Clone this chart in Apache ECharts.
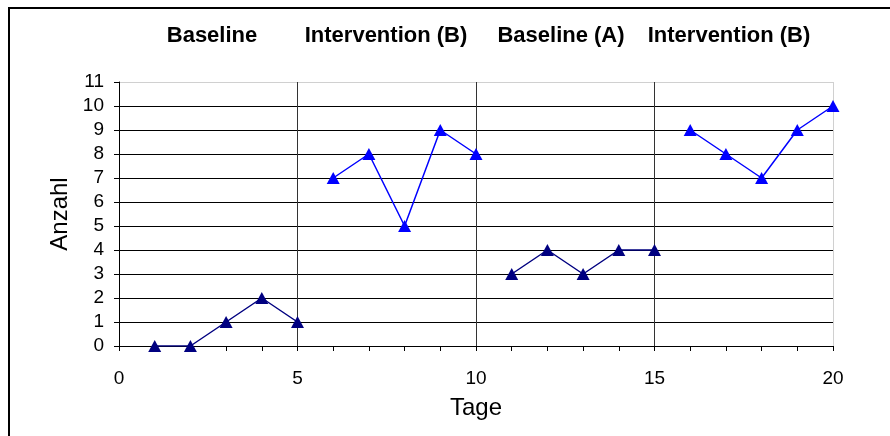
<!DOCTYPE html>
<html>
<head>
<meta charset="utf-8">
<script src="https://cdn.jsdelivr.net/npm/echarts@6/dist/echarts.min.js"></script>
<style>html,body{margin:0;padding:0;background:#fff}#c{width:890px;height:436px}</style>
</head>
<body>
<div id="c"></div>
<script>
var phaseTitles = ['Baseline', 'Intervention (B)', 'Baseline (A)', 'Intervention (B)'];
var phase1Days = [1, 2, 3, 4, 5];
var phase1Values = [0, 0, 1, 2, 1];
var phase2Days = [6, 7, 8, 9, 10];
var phase2Values = [7, 8, 5, 9, 8];
var phase3Days = [11, 12, 13, 14, 15];
var phase3Values = [3, 4, 3, 4, 4];
var phase4Days = [16, 17, 18, 19, 20];
var phase4Values = [9, 8, 7, 9, 10];
var xAxisName = 'Tage';
var yAxisName = 'Anzahl';

function pts(d, v) { return d.map(function (x, i) { return [x, v[i]]; }); }

var FONT = '"Liberation Sans", Arial, sans-serif';
var NAVY = '#000080', BLUE = '#0000FF';

function mkSeries(d, v, color) {
  return {
    type: 'line', data: pts(d, v), symbol: 'triangle', symbolSize: [13, 12],
    lineStyle: { color: color, width: 1.5 }, itemStyle: { color: color },
    animation: false, silent: true
  };
}

var titleX = [212, 386, 561, 729];
var chart = echarts.init(document.getElementById('c'));
chart.setOption({
  animation: false,
  grid: { left: 119, right: 57, top: 82, bottom: 90 },
  xAxis: {
    type: 'value', min: 0, max: 20, interval: 5,
    name: xAxisName, nameLocation: 'middle', nameGap: 50,
    nameTextStyle: { fontFamily: FONT, fontSize: 24, color: '#000' },
    axisLine: { show: true, lineStyle: { color: '#000', width: 1 } },
    axisTick: { show: true, length: 5, inside: false, lineStyle: { color: '#000' } },
    minorTick: { show: true, splitNumber: 5, length: 5, lineStyle: { color: '#000' } },
    axisLabel: { fontFamily: FONT, fontSize: 19, color: '#000', margin: 23 },
    splitLine: { show: true, lineStyle: { color: ['#000', '#333', '#333', '#333', '#d0d0d0'], width: 1 } }
  },
  yAxis: {
    type: 'value', min: 0, max: 11, interval: 1,
    name: yAxisName, nameLocation: 'middle', nameGap: 46, nameRotate: 90,
    nameTextStyle: { fontFamily: FONT, fontSize: 24, color: '#000' },
    axisLine: { show: true, lineStyle: { color: '#000', width: 1 } },
    axisTick: { show: true, length: 5, lineStyle: { color: '#000' } },
    axisLabel: { fontFamily: FONT, fontSize: 19, color: '#000', margin: 15 },
    splitLine: { show: true, lineStyle: { color: ['#000','#000','#000','#000','#000','#000','#000','#000','#000','#000','#000','#d0d0d0'], width: 1 } }
  },
  graphic: [
    { type: 'line', shape: { x1: 8, y1: 8, x2: 890, y2: 8 }, style: { stroke: '#000', lineWidth: 2 } },
    { type: 'line', shape: { x1: 9, y1: 7, x2: 9, y2: 436 }, style: { stroke: '#000', lineWidth: 2 } }
  ].concat(phaseTitles.map(function (t, i) {
    return { type: 'text', x: titleX[i], y: 36, style: { text: t, fontFamily: FONT, fontSize: 22, fontWeight: 'bold', fill: '#000', textAlign: 'center', textVerticalAlign: 'middle' } };
  })),
  series: [
    mkSeries(phase1Days, phase1Values, NAVY),
    mkSeries(phase2Days, phase2Values, BLUE),
    mkSeries(phase3Days, phase3Values, NAVY),
    mkSeries(phase4Days, phase4Values, BLUE)
  ]
});
</script>
</body>
</html>
